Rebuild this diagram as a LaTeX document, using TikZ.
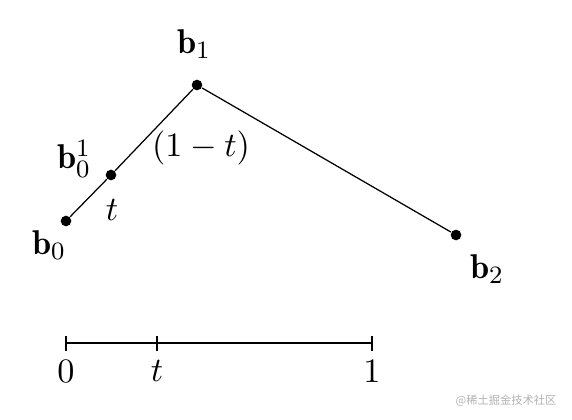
\documentclass[tikz,border=0pt]{standalone}
\usepackage{amsmath, amssymb}
\usepackage{fontspec}
\newfontfamily\cjk{Noto Sans CJK SC}
\usepackage{tikz}
\usetikzlibrary{positioning}

\begin{document}
\begin{tikzpicture}[
    x=0.32pt, y=-0.32pt,
    pt/.style={circle, fill=black, inner sep=0pt, minimum size=3.4pt},
    lbl/.style={inner sep=0.5pt, font=\fontsize{11}{13}\selectfont},
    scaleline/.style={line width=0.8pt}
]
\useasboundingbox (0,0) rectangle (572,420);

% Points
\node[pt] (b0) at (66,221) {};
\node[pt] (b1) at (197,85) {};
\node[pt] (b2) at (456,235) {};
\node[pt] (b01) at (111,175) {};

% Control polygon
\draw[line width=0.4pt] (b0) -- (b01) -- (b1) -- (b2);

% Labels
\node[lbl] (lb0) at (49,245) {$\mathbf{b}_0$};
\node[lbl] (lb1) at (194,44) {$\mathbf{b}_1$};
\node[lbl] (lb2) at (487,269) {$\mathbf{b}_2$};
\node[lbl] (lb01) at (74,159) {$\mathbf{b}_0^1$};
\node[lbl] (lt) at (112,210) {$t$};
\node[lbl] (lomt) at (201,148) {$(1-t)$};

% Parameter line
\coordinate (s0) at (66,343);
\coordinate (st) at (157,343);
\coordinate (s1) at (372,343);
\draw[scaleline] (s0) -- (s1);
\foreach \s in {s0,st,s1}
    \draw[line width=0.6pt] ([yshift=-2.4pt]\s) -- ([yshift=2.4pt]\s);
\node[lbl, below=5pt of s0] (l0) {$0$};
\node[lbl, below=5pt of st] (ltt) {$t$};
\node[lbl, below=5pt of s1] (l1) {$1$};

% Watermark
\node[text=black!30, font=\cjk\fontsize{3.6pt}{4pt}\selectfont] (wm) at (506,401) {@稀土掘金技术社区};

\end{tikzpicture}
\end{document}
